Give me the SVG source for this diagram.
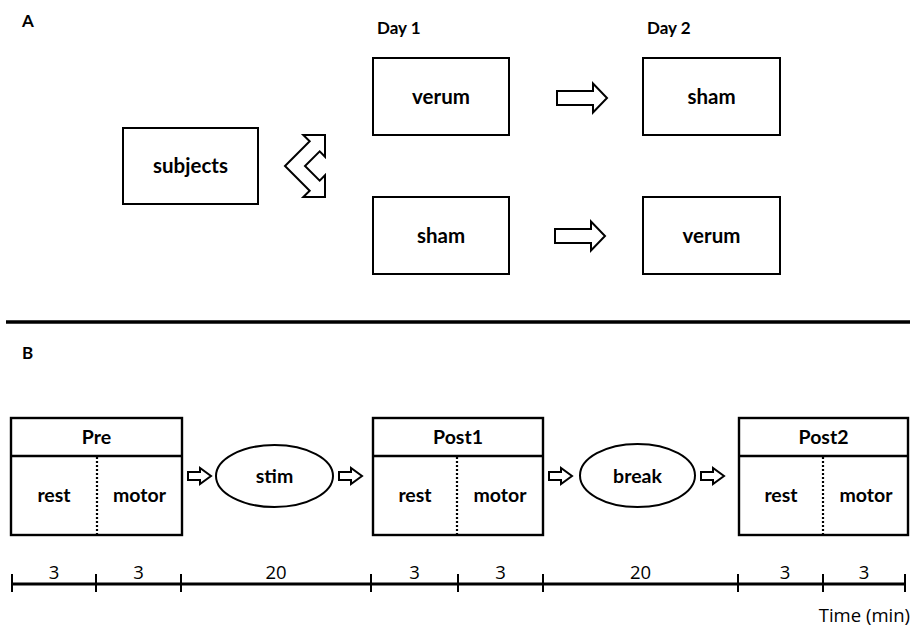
<svg xmlns="http://www.w3.org/2000/svg" width="910" height="626" viewBox="0 0 910 626">
  <style>
    .box { fill: #fff; stroke: #000; stroke-width: 2; }
    .lane { fill: #fff; stroke: #000; stroke-width: 2.4; }
    .bar { fill: none; stroke: #000; stroke-width: 2.4; }
    .dots { fill: none; stroke: #000; stroke-width: 2.2; stroke-dasharray: 2 2; }
    .blk { fill: #fff; stroke: #000; stroke-width: 2; stroke-linejoin: miter; }
    .lbl { font-family: Lato, "Open Sans", sans-serif; font-weight: bold; fill: #000; text-anchor: middle; }
    .num { font-family: "Open Sans", "Noto Sans", sans-serif; font-size: 18.5px; fill: #000; text-anchor: middle; }
    .axis { stroke: #000; stroke-width: 3; }
    .tick { stroke: #000; stroke-width: 2; }
  </style>
  <defs>
    <path id="arrowA" d="M0,-7 L36,-7 L36,-14.5 L50,0 L36,14.5 L36,7 L0,7 Z"/>
    <path id="arrowB" d="M0,-4 L12,-4 L12,-8 L23,0 L12,8 L12,4 L0,4 Z"/>
  </defs>

  <rect width="910" height="626" fill="#fff"/>

  <!-- panel A -->
  <text class="lbl" x="22" y="27" font-size="17" style="text-anchor:start">A</text>
  <text class="lbl" x="377" y="34" font-size="17" style="text-anchor:start">Day 1</text>
  <text class="lbl" x="647" y="34" font-size="17" style="text-anchor:start">Day 2</text>

  <g id="subjects">
    <rect class="box" x="123" y="128" width="135" height="76"/>
    <text class="lbl" x="190.5" y="173" font-size="20.5">subjects</text>
  </g>
  <g id="day1-verum">
    <rect class="box" x="373" y="58" width="136" height="77"/>
    <text class="lbl" x="441" y="104" font-size="20.5">verum</text>
  </g>
  <g id="day2-sham">
    <rect class="box" x="643" y="58" width="137" height="77"/>
    <text class="lbl" x="711.5" y="104" font-size="20.5">sham</text>
  </g>
  <g id="day1-sham">
    <rect class="box" x="373" y="197" width="136" height="77"/>
    <text class="lbl" x="441" y="243" font-size="20.5">sham</text>
  </g>
  <g id="day2-verum">
    <rect class="box" x="643" y="197" width="137" height="77"/>
    <text class="lbl" x="711.5" y="243" font-size="20.5">verum</text>
  </g>

  <!-- divider between panels -->
  <line x1="6" y1="322" x2="910" y2="322" stroke="#000" stroke-width="3.5"/>

  <!-- panel B -->
  <text class="lbl" x="22" y="359" font-size="17" style="text-anchor:start">B</text>

  <g id="pre">
    <rect class="lane" x="11" y="418" width="171" height="117"/>
    <line class="bar" x1="11" y1="456" x2="182" y2="456"/>
    <line class="dots" x1="97" y1="457" x2="97" y2="535"/>
    <text class="lbl" x="96.5" y="444" font-size="19.5">Pre</text>
    <text class="lbl" x="54" y="502" font-size="19.5">rest</text>
    <text class="lbl" x="139.5" y="502" font-size="19.5">motor</text>
  </g>
  <g id="stim">
    <ellipse class="box" cx="274.5" cy="476" rx="58.5" ry="31"/>
    <text class="lbl" x="274.5" y="483" font-size="19.5">stim</text>
  </g>
  <g id="post1">
    <rect class="lane" x="373" y="418" width="170" height="117"/>
    <line class="bar" x1="373" y1="456" x2="543" y2="456"/>
    <line class="dots" x1="457" y1="457" x2="457" y2="535"/>
    <text class="lbl" x="458" y="444" font-size="19.5">Post1</text>
    <text class="lbl" x="415" y="502" font-size="19.5">rest</text>
    <text class="lbl" x="500" y="502" font-size="19.5">motor</text>
  </g>
  <g id="break">
    <ellipse class="box" cx="637.5" cy="475.5" rx="57.5" ry="31.5"/>
    <text class="lbl" x="637.5" y="483" font-size="19.5">break</text>
  </g>
  <g id="post2">
    <rect class="lane" x="739" y="418" width="169" height="117"/>
    <line class="bar" x1="739" y1="456" x2="908" y2="456"/>
    <line class="dots" x1="823" y1="457" x2="823" y2="535"/>
    <text class="lbl" x="823.5" y="444" font-size="19.5">Post2</text>
    <text class="lbl" x="781" y="502" font-size="19.5">rest</text>
    <text class="lbl" x="866" y="502" font-size="19.5">motor</text>
  </g>

  <g id="connectors">
    <path class="blk" d="M285,166 L309.7,141.3 L303.3,135 L325,135 L325,156.7 L319.7,151.3 L305,166 L319.7,180.7 L325,175.3 L325,197 L303.3,197 L309.7,190.7 Z"/>
    <use href="#arrowA" class="blk" x="557" y="98"/>
    <use href="#arrowA" class="blk" x="555" y="236"/>
    <use href="#arrowB" class="blk" x="188" y="476"/>
    <use href="#arrowB" class="blk" x="339" y="476"/>
    <use href="#arrowB" class="blk" x="549" y="476"/>
    <use href="#arrowB" class="blk" x="701" y="476"/>
  </g>

  <g id="timeline">
    <line class="axis" x1="11" y1="584" x2="906" y2="584"/>
    <line class="tick" x1="12" y1="574" x2="12" y2="592"/>
    <line class="tick" x1="96" y1="574" x2="96" y2="592"/>
    <line class="tick" x1="181" y1="574" x2="181" y2="592"/>
    <line class="tick" x1="371" y1="574" x2="371" y2="592"/>
    <line class="tick" x1="458" y1="574" x2="458" y2="592"/>
    <line class="tick" x1="543" y1="574" x2="543" y2="592"/>
    <line class="tick" x1="738" y1="574" x2="738" y2="592"/>
    <line class="tick" x1="823" y1="574" x2="823" y2="592"/>
    <line class="tick" x1="905" y1="574" x2="905" y2="592"/>
    <text class="num" x="54" y="579">3</text>
    <text class="num" x="138.5" y="579">3</text>
    <text class="num" x="276" y="579">20</text>
    <text class="num" x="414.5" y="579">3</text>
    <text class="num" x="500.5" y="579">3</text>
    <text class="num" x="640.5" y="579">20</text>
    <text class="num" x="785" y="579">3</text>
    <text class="num" x="864" y="579">3</text>
    <text class="num" x="910" y="622" style="text-anchor:end">Time (min)</text>
  </g>
</svg>
